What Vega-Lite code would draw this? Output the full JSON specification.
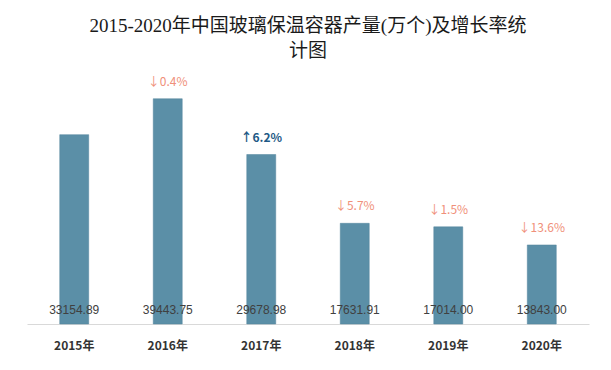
{
  "$schema": "https://vega.github.io/schema/vega-lite/v6.json",
  "width": 562,
  "height": 257,
  "padding": {"left": 27, "right": 22, "top": 17, "bottom": 15},
  "background": "white",
  "title": {
    "text": ["2015-2020年中国玻璃保温容器产量(万个)及增长率统", "计图"],
    "font": "Liberation Serif, Noto Sans CJK SC",
    "fontSize": 19,
    "fontWeight": "normal",
    "lineHeight": 25,
    "color": "#1a1a1a",
    "anchor": "middle",
    "offset": 6
  },
  "data": {
    "values": [
      {"year": "2015年", "value": 33154.89, "label": "33154.89", "growth": "", "dir": "none"},
      {"year": "2016年", "value": 39443.75, "label": "39443.75", "growth": "↓0.4%", "dir": "down"},
      {"year": "2017年", "value": 29678.98, "label": "29678.98", "growth": "↑6.2%", "dir": "up"},
      {"year": "2018年", "value": 17631.91, "label": "17631.91", "growth": "↓5.7%", "dir": "down"},
      {"year": "2019年", "value": 17014.0, "label": "17014.00", "growth": "↓1.5%", "dir": "down"},
      {"year": "2020年", "value": 13843.0, "label": "13843.00", "growth": "↓13.6%", "dir": "down"}
    ]
  },
  "encoding": {
    "x": {
      "field": "year",
      "type": "ordinal",
      "sort": null,
      "scale": {"paddingInner": 0.69, "paddingOuter": 0.35},
      "axis": {
        "title": null,
        "labelAngle": 0,
        "ticks": false,
        "domainColor": "#d9d9d9",
        "domainWidth": 1,
        "labelPadding": 16,
        "labelFont": "Noto Sans CJK SC",
        "labelFontSize": 12,
        "labelFontWeight": "bold",
        "labelColor": "#333333"
      }
    }
  },
  "layer": [
    {
      "mark": {"type": "bar", "color": "#5B8FA7", "stroke": "#52859c", "strokeWidth": 0.5},
      "encoding": {
        "y": {
          "field": "value",
          "type": "quantitative",
          "scale": {"domain": [0, 45000], "nice": false},
          "axis": null
        }
      }
    },
    {
      "mark": {"type": "text", "baseline": "middle", "font": "Liberation Sans", "fontSize": 12, "color": "#404040"},
      "encoding": {
        "y": {"datum": 2400, "type": "quantitative"},
        "text": {"field": "label"}
      }
    },
    {
      "transform": [{"filter": "datum.dir === 'down'"}],
      "mark": {"type": "text", "baseline": "middle", "dy": -17, "font": "Noto Sans CJK SC", "fontSize": 12, "color": "#F0907A"},
      "encoding": {
        "y": {"field": "value", "type": "quantitative"},
        "text": {"field": "growth"}
      }
    },
    {
      "transform": [{"filter": "datum.dir === 'up'"}],
      "mark": {"type": "text", "baseline": "middle", "dy": -17, "font": "Noto Sans CJK SC", "fontSize": 12, "fontWeight": "bold", "color": "#1F5A86"},
      "encoding": {
        "y": {"field": "value", "type": "quantitative"},
        "text": {"field": "growth"}
      }
    }
  ],
  "config": {"view": {"stroke": null}}
}
